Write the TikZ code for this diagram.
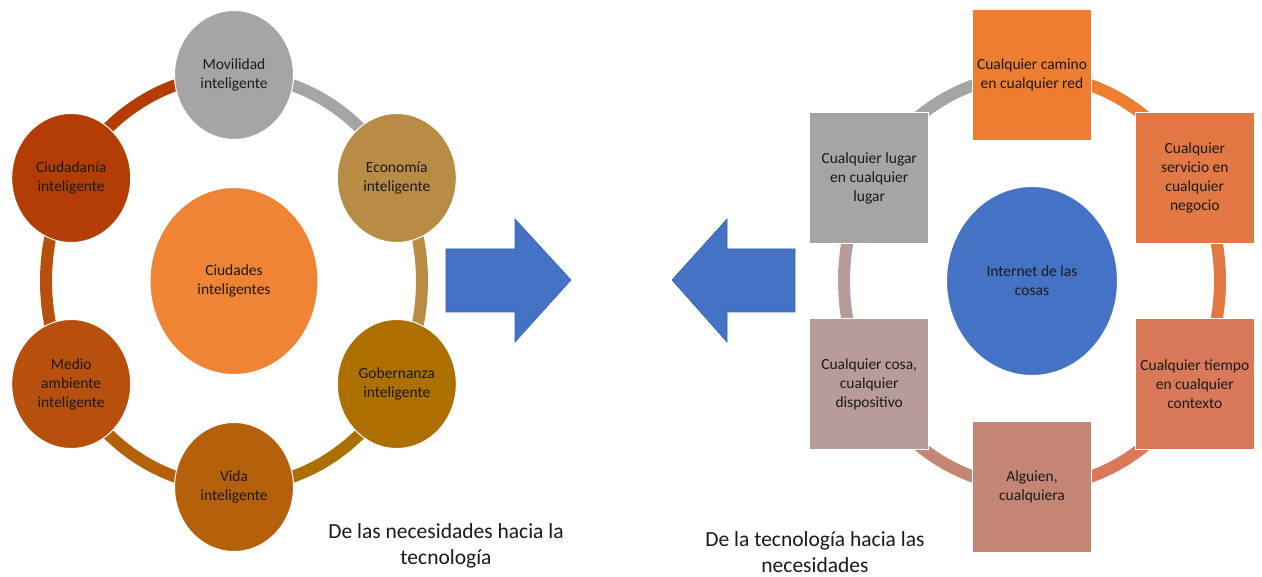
\documentclass[tikz,border=0pt]{standalone}
\usepackage{fontspec}
\setmainfont{Carlito}
\usetikzlibrary{shapes.geometric,backgrounds}
\definecolor{txt}{HTML}{1A1A1A}
\definecolor{cMov}{HTML}{A5A5A5}
\definecolor{cEco}{HTML}{B88C44}
\definecolor{cGob}{HTML}{AD7000}
\definecolor{cVid}{HTML}{B5600A}
\definecolor{cMed}{HTML}{B8500D}
\definecolor{cCiu}{HTML}{B33D05}
\definecolor{cCen}{HTML}{EF8434}
\definecolor{cCam}{HTML}{ED7D31}
\definecolor{cSer}{HTML}{E27844}
\definecolor{cTie}{HTML}{D9795A}
\definecolor{cAlg}{HTML}{C48674}
\definecolor{cCos}{HTML}{B89C9A}
\definecolor{cLug}{HTML}{A5A5A5}
\definecolor{cIot}{HTML}{4472C4}
\definecolor{arrowblue}{HTML}{4472C4}
\definecolor{arrowedge}{HTML}{3A63AE}
\begin{document}
\begin{tikzpicture}[x=1pt,y=-1pt,
  lbl/.style={font=\fontsize{15.5}{19}\selectfont, align=center, text=txt, inner sep=0pt},
  cnode/.style={lbl, ellipse, minimum width=119pt, minimum height=129pt, draw=white, line width=1pt},
  snode/.style={lbl, rectangle, minimum width=119pt, minimum height=131pt, draw=white, line width=1pt},
  ringarc/.style={line width=12pt},
  caption/.style={font=\fontsize{21.5}{26}\selectfont, align=center, text=txt, inner sep=0pt},
  blockarrow/.style={fill=arrowblue, draw=arrowedge, line width=0.6pt}
]
\useasboundingbox (0,0) rectangle (1262,577);

% ---------- left cycle ----------
\node[cnode, fill=cCen, minimum width=168pt, minimum height=187pt] (ciud) at (234,281) {Ciudades\\inteligentes};
\node[cnode, fill=cMov] (mov) at (234,75) {Movilidad\\inteligente};
\node[cnode, fill=cEco] (eco) at (396.8,178) {Economía\\inteligente};
\node[cnode, fill=cGob] (gob) at (396.8,384) {Gobernanza\\inteligente};
\node[cnode, fill=cVid] (vid) at (234,487) {Vida\\inteligente};
\node[cnode, fill=cMed] (med) at (71.2,384) {Medio\\ambiente\\inteligente};
\node[cnode, fill=cCiu] (ciu) at (71.2,178) {Ciudadanía\\inteligente};

% ---------- right cycle ----------
\node[cnode, fill=cIot, minimum width=171pt, minimum height=189pt] (iot) at (1032,281) {Internet de las\\cosas};
\node[snode, fill=cCam] (cam) at (1032,75) {Cualquier camino\\en cualquier red};
\node[snode, fill=cSer] (ser) at (1194.8,178) {Cualquier\\servicio en\\cualquier\\negocio};
\node[snode, fill=cTie] (tie) at (1194.8,384) {Cualquier tiempo\\en cualquier\\contexto};
\node[snode, fill=cAlg] (alg) at (1032,487) {Alguien,\\cualquiera};
\node[snode, fill=cCos] (cos) at (869.2,384) {Cualquier cosa,\\cualquier\\dispositivo};
\node[snode, fill=cLug] (lug) at (869.2,178) {Cualquier lugar\\en cualquier\\lugar};

\begin{pgfonlayer}{background}
\fill[white] (0,0) rectangle (1262,577);
\draw[ringarc, cMov] (mov.center) arc[start angle=-90, end angle=-30, x radius=188, y radius=206];
\draw[ringarc, cEco] (eco.center) arc[start angle=-30, end angle=30, x radius=188, y radius=206];
\draw[ringarc, cGob] (gob.center) arc[start angle=30, end angle=90, x radius=188, y radius=206];
\draw[ringarc, cVid] (vid.center) arc[start angle=90, end angle=150, x radius=188, y radius=206];
\draw[ringarc, cMed] (med.center) arc[start angle=150, end angle=210, x radius=188, y radius=206];
\draw[ringarc, cCiu] (ciu.center) arc[start angle=210, end angle=270, x radius=188, y radius=206];
\draw[ringarc, cCam] (cam.center) arc[start angle=-90, end angle=-30, x radius=188, y radius=206];
\draw[ringarc, cSer] (ser.center) arc[start angle=-30, end angle=30, x radius=188, y radius=206];
\draw[ringarc, cTie] (tie.center) arc[start angle=30, end angle=90, x radius=188, y radius=206];
\draw[ringarc, cAlg] (alg.center) arc[start angle=90, end angle=150, x radius=188, y radius=206];
\draw[ringarc, cCos] (cos.center) arc[start angle=150, end angle=210, x radius=188, y radius=206];
\draw[ringarc, cLug] (lug.center) arc[start angle=210, end angle=270, x radius=188, y radius=206];
\end{pgfonlayer}

% ---------- block arrows ----------
\draw[blockarrow] (446,249) -- (515,249) -- (515,219) -- (571,280) -- (515,342) -- (515,312) -- (446,312) -- cycle;
\draw[blockarrow] (795,249) -- (727,249) -- (727,219) -- (672,280) -- (727,342) -- (727,312) -- (795,312) -- cycle;

% ---------- captions ----------
\node[caption] (capL) at (446,546) {De las necesidades hacia la\\tecnología};
\node[caption] (capR) at (815,552) {De la tecnología hacia las\\necesidades};
\end{tikzpicture}
\end{document}
